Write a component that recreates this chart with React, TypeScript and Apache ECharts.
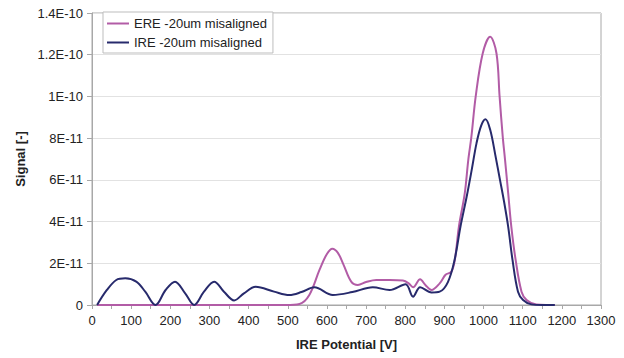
import React, { useEffect, useRef } from "react";
import * as echarts from "echarts";

const seriesNames = ["ERE -20um misaligned", "IRE -20um misaligned"];
const yTickValues = [0, 2, 4, 6, 8, 10, 12, 14]; // in units of 1E-11
const xTicks = [0, 100, 200, 300, 400, 500, 600, 700, 800, 900, 1000, 1100, 1200, 1300];

// [IRE potential (V), signal (x1E-11)]
const ereData: [number, number][] = [
  [13, 0], [150, 0], [300, 0], [450, 0], [495, 0], [530, 0.05], [555, 0.48], [581, 1.68],
  [600, 2.45], [614, 2.7], [628, 2.5], [642, 1.95], [662, 1.12], [679, 0.96], [700, 1.1],
  [726, 1.2], [760, 1.2], [794, 1.17], [808, 1.05], [820, 0.85], [838, 1.23], [852, 0.95],
  [867, 0.72], [888, 1.04], [903, 1.45], [918, 1.6], [927, 2.2], [937, 3.75], [952, 5.35],
  [961, 6.95], [969, 8.07], [980, 10.0], [998, 12.07], [1017, 12.86], [1033, 12.07],
  [1041, 10.0], [1049, 8.07], [1055, 6.95], [1063, 5.35], [1071, 3.75], [1082, 2.16],
  [1097, 0.64], [1110, 0.24], [1135, 0.02], [1160, 0], [1182, 0],
];

const ireData: [number, number][] = [
  [13, 0], [38, 0.72], [62, 1.2], [85, 1.28], [113, 1.12], [136, 0.64], [162, 0],
  [188, 0.72], [212, 1.12], [238, 0.56], [261, 0], [286, 0.64], [312, 1.12], [337, 0.64],
  [363, 0.22], [388, 0.56], [418, 0.87], [465, 0.64], [504, 0.48], [535, 0.62], [568, 0.85],
  [615, 0.48], [665, 0.62], [717, 0.85], [760, 0.72], [801, 1.0], [820, 0.4], [838, 0.85],
  [867, 0.6], [888, 0.64], [909, 1.1], [926, 2.16], [941, 3.75], [957, 5.2], [970, 6.5],
  [982, 7.75], [994, 8.6], [1005, 8.9], [1017, 8.4], [1030, 7.2], [1042, 6.0], [1052, 5.0],
  [1063, 3.75], [1074, 2.16], [1088, 0.64], [1101, 0.24], [1122, 0.03], [1150, 0], [1182, 0],
];

const colors = ["#b25ca6", "#272a6c"];

function fmtY(v: number): string {
  if (v === 0) return "0";
  const real = v * 1e-11;
  const exp = Math.floor(Math.log10(real) + 1e-9);
  const mant = Math.round((real / Math.pow(10, exp)) * 10) / 10;
  return `${mant}E${exp}`;
}

export default function App() {
  const ref = useRef<HTMLDivElement>(null);
  useEffect(() => {
    if (!ref.current) return;
    const chart = echarts.init(ref.current, undefined, { renderer: "svg" });
    const font = "Liberation Sans, Arial, sans-serif";
    chart.setOption({
      animation: false,
      backgroundColor: "#ffffff",
      textStyle: { fontFamily: font },
      grid: {
        left: 92,
        right: 23,
        top: 13,
        bottom: 53,
        show: true,
        borderColor: "#a8a8a8",
        borderWidth: 1,
        backgroundColor: "#ffffff",
      },
      legend: {
        orient: "vertical",
        left: 103,
        top: 12,
        data: seriesNames.map((n) => ({ name: n, icon: "rect" })),
        itemWidth: 22,
        itemHeight: 2,
        itemGap: 4,
        padding: [4, 6, 3, 4],
        borderColor: "#bdbdbd",
        borderWidth: 1,
        backgroundColor: "#ffffff",
        textStyle: { fontFamily: font, fontSize: 13, color: "#222", lineHeight: 15 },
      },
      xAxis: {
        type: "value",
        min: 0,
        max: 1300,
        interval: 100,
        name: "IRE Potential [V]",
        nameLocation: "middle",
        nameGap: 33,
        nameTextStyle: { fontFamily: font, fontSize: 13, fontWeight: "bold", color: "#222" },
        axisLine: { show: true, lineStyle: { color: "#a8a8a8" } },
        axisTick: { show: true, length: 4, lineStyle: { color: "#a8a8a8" } },
        minorTick: { show: true, splitNumber: 2, length: 4, lineStyle: { color: "#a8a8a8" } },
        splitLine: { show: false },
        axisLabel: {
          fontFamily: font,
          fontSize: 13,
          color: "#222",
          margin: 9,
          formatter: (v: number) => (xTicks.includes(v) ? String(v) : ""),
        },
      },
      yAxis: {
        type: "value",
        min: 0,
        max: 14,
        interval: 2,
        name: "Signal [-]",
        nameLocation: "middle",
        nameGap: 65,
        nameRotate: 90,
        nameTextStyle: { fontFamily: font, fontSize: 13, fontWeight: "bold", color: "#222" },
        axisLine: { show: true, lineStyle: { color: "#a8a8a8" } },
        axisTick: { show: true, length: 5, lineStyle: { color: "#a8a8a8" } },
        splitLine: { show: true, lineStyle: { color: "#e2e2e2" } },
        axisLabel: {
          fontFamily: font,
          fontSize: 13,
          color: "#222",
          margin: 9,
          formatter: (v: number) => (yTickValues.includes(v) ? fmtY(v) : ""),
        },
      },
      series: [
        {
          name: seriesNames[0],
          type: "line",
          data: ereData,
          smooth: 0.35,
          showSymbol: false,
          symbol: "none",
          lineStyle: { color: colors[0], width: 2 },
          itemStyle: { color: colors[0] },
          z: 2,
        },
        {
          name: seriesNames[1],
          type: "line",
          data: ireData,
          smooth: 0.35,
          showSymbol: false,
          symbol: "none",
          lineStyle: { color: colors[1], width: 2 },
          itemStyle: { color: colors[1] },
          z: 3,
        },
      ],
    });
    return () => chart.dispose();
  }, []);
  return <div ref={ref} style={{ width: 624, height: 358, position: "absolute", left: 0, top: 0 }} />;
}
